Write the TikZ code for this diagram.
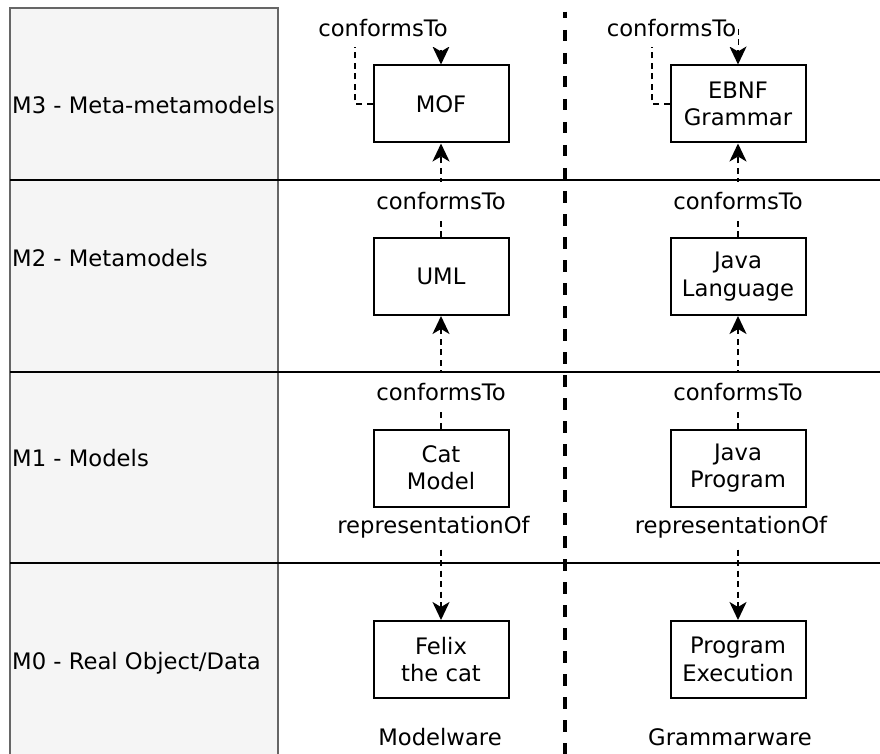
\documentclass[tikz,border=0pt]{standalone}
\usepackage{fontspec}
\setmainfont{DejaVu Sans}
\usetikzlibrary{arrows.meta}
\definecolor{lanefill}{HTML}{F5F5F5}
\definecolor{laneline}{HTML}{666666}
\begin{document}
\begin{tikzpicture}[x=1pt,y=-1pt,
  font=\fontsize{22.7}{27.3}\selectfont,
  box/.style={draw=black, line width=2pt, minimum width=135pt, minimum height=77pt,
              inner sep=0pt, align=center, fill=white},
  lbl/.style={fill=white, inner xsep=2pt, inner ysep=10pt, anchor=base},
  lvl/.style={anchor=base west, inner sep=0pt},
  rel/.style={line width=2pt, dash pattern=on 6pt off 4.5pt,
              -{Stealth[length=18pt,width=17pt,inset=5pt]}},
  sep/.style={line width=2pt, black},
  divider/.style={line width=3.4pt, dash pattern=on 11.5pt off 11.5pt, dash phase=4.7pt},
]
\useasboundingbox (0,0) rectangle (880,754);
\fill[white] (0,0) rectangle (880,754);

% level column
\draw[draw=laneline, fill=lanefill, line width=1.6pt] (10,8) rectangle (278,762);
\draw[sep] (10,180.3) -- (880,180.3);
\draw[sep] (10,371.7) -- (880,371.7);
\draw[sep] (10,563.3) -- (880,563.3);

% vertical divider
\coordinate (divtop) at (565,11.7);
\coordinate (divbot) at (565,756);
\draw[divider] (divtop) -- (divbot);

% level labels
\node[lvl] (m3) at (12,113.3) {M3 - Meta-metamodels};
\node[lvl] (m2) at (12,266.7) {M2 - Metamodels};
\node[lvl] (m1) at (12,466.7) {M1 - Models};
\node[lvl] (m0) at (12,669.3) {M0 - Real Object/Data};

% box positions
\coordinate (pmof) at (441,104);
\coordinate (pebnf) at (738,104);
\coordinate (puml) at (441,276.5);
\coordinate (pjl) at (738,276.5);
\coordinate (pcat) at (441,468);
\coordinate (pjp) at (738,468);
\coordinate (pfelix) at (441,659.5);
\coordinate (pexec) at (738,659.5);

\node[box] (mof) at (pmof) {MOF};
\node[box] (ebnf) at (pebnf) {EBNF\\Grammar};
\node[box] (uml) at (puml) {UML};
\node[box] (javalang) at (pjl) {Java\\Language};
\node[box] (cat) at (pcat) {Cat\\Model};
\node[box] (javaprog) at (pjp) {Java\\Program};
\node[box] (felix) at (pfelix) {Felix\\the cat};
\node[box] (exec) at (pexec) {Program\\Execution};

% connectors
\coordinate (mofloop) at (355,29);
\coordinate (ebnfloop) at (652,29);
\draw[rel] (mof.west) -| (mofloop) -| (mof.north);
\draw[rel] (ebnf.west) -| (ebnfloop) -| (ebnf.north);
\draw[rel] (uml.north) -- (mof.south);
\draw[rel] (javalang.north) -- (ebnf.south);
\draw[rel] (cat.north) -- (uml.south);
\draw[rel] (javaprog.north) -- (javalang.south);
\draw[rel] (cat.south) -- (felix.north);
\draw[rel] (javaprog.south) -- (exec.north);

% connector labels
\node[lbl] (lmof) at (383,37) {conformsTo};
\node[lbl] (lebnf) at (671.5,37) {conformsTo};
\node[lbl] (luml) at (441,209) {conformsTo};
\node[lbl] (ljl) at (738,209) {conformsTo};
\node[lbl] (lcat) at (441,400.7) {conformsTo};
\node[lbl] (ljp) at (738,400.7) {conformsTo};
\node[lbl] (lrep1) at (433.5,533) {representationOf};
\node[lbl] (lrep2) at (731,533) {representationOf};

% boxes again on top so labels do not clip their borders
\node[box] at (pmof) {MOF};
\node[box] at (pebnf) {EBNF\\Grammar};
\node[box] at (puml) {UML};
\node[box] at (pjl) {Java\\Language};
\node[box] at (pcat) {Cat\\Model};
\node[box] at (pjp) {Java\\Program};
\node[box] at (pfelix) {Felix\\the cat};
\node[box] at (pexec) {Program\\Execution};

% column captions
\node[anchor=base, inner sep=0pt] (mw) at (440,745) {Modelware};
\node[anchor=base, inner sep=0pt] (gw) at (730,745) {Grammarware};
\end{tikzpicture}
\end{document}
